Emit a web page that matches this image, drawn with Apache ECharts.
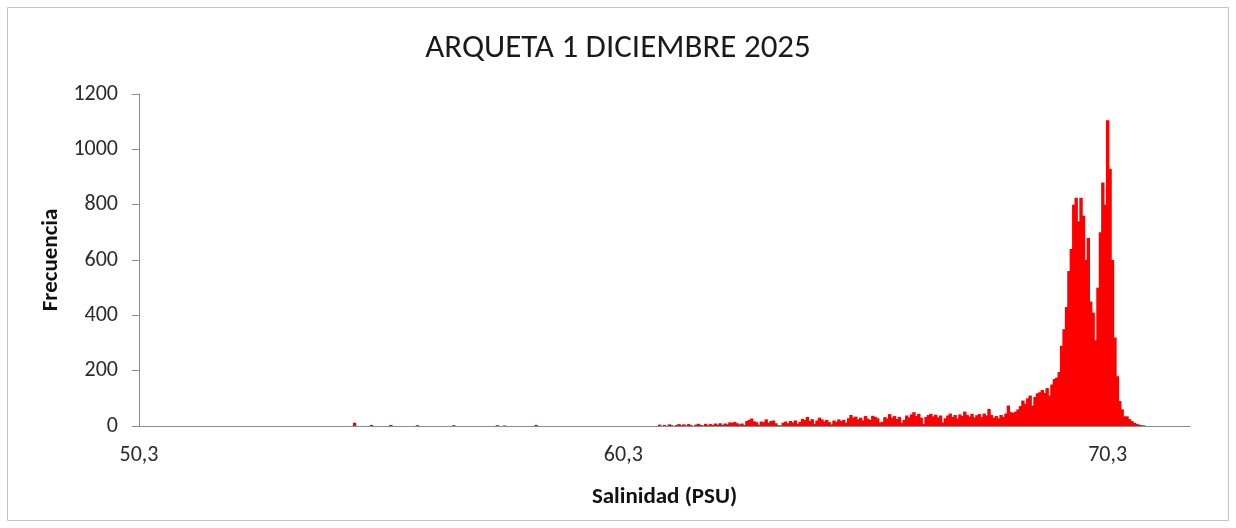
<!DOCTYPE html>
<html>
<head>
<meta charset="utf-8">
<script src="https://cdn.jsdelivr.net/npm/echarts@6/dist/echarts.min.js"></script>
<style>
html,body{margin:0;padding:0;background:#fff;}
#chart{width:1236px;height:528px;}
</style>
</head>
<body>
<div id="chart"></div>
<script>
const titulo = 'ARQUETA 1 DICIEMBRE 2025';
const ejeX = 'Salinidad (PSU)';
const ejeY = 'Frecuencia';
const xTicks = [50.3, 60.3, 70.3];

// Salinity bin centres (PSU)
const salinidad = [
  54.75, 55.10, 55.50, 56.05, 56.80, 57.70, 57.85, 58.50,
  61.05, 61.10, 61.15, 61.20, 61.25, 61.30, 61.35, 61.40, 61.45, 61.50,
  61.55, 61.60, 61.65, 61.70, 61.75, 61.80, 61.85, 61.90, 61.95, 62.00,
  62.05, 62.10, 62.15, 62.20, 62.25, 62.30, 62.35, 62.40, 62.45, 62.50,
  62.55, 62.60, 62.65, 62.70, 62.75, 62.80, 62.85, 62.90, 62.95, 63.00,
  63.05, 63.10, 63.15, 63.20, 63.25, 63.30, 63.35, 63.40, 63.45, 63.50,
  63.55, 63.60, 63.65, 63.70, 63.75, 63.80, 63.85, 63.90, 63.95, 64.00,
  64.05, 64.10, 64.15, 64.20, 64.25, 64.30, 64.35, 64.40, 64.45, 64.50,
  64.55, 64.60, 64.65, 64.70, 64.75, 64.80, 64.85, 64.90, 64.95, 65.00,
  65.05, 65.10, 65.15, 65.20, 65.25, 65.30, 65.35, 65.40, 65.45, 65.50,
  65.55, 65.60, 65.65, 65.70, 65.75, 65.80, 65.85, 65.90, 65.95, 66.00,
  66.05, 66.10, 66.15, 66.20, 66.25, 66.30, 66.35, 66.40, 66.45, 66.50,
  66.55, 66.60, 66.65, 66.70, 66.75, 66.80, 66.85, 66.90, 66.95, 67.00,
  67.05, 67.10, 67.15, 67.20, 67.25, 67.30, 67.35, 67.40, 67.45, 67.50,
  67.55, 67.60, 67.65, 67.70, 67.75, 67.80, 67.85, 67.90, 67.95, 68.00,
  68.05, 68.10, 68.15, 68.20, 68.25, 68.30, 68.35, 68.40, 68.45, 68.50,
  68.55, 68.60, 68.65, 68.70, 68.75, 68.80, 68.85, 68.90, 68.95, 69.00,
  69.05, 69.10, 69.15, 69.20, 69.25, 69.30, 69.35, 69.40, 69.45, 69.50,
  69.55, 69.60, 69.65, 69.70, 69.75, 69.80, 69.85, 69.90, 69.95, 70.00,
  70.05, 70.10, 70.15, 70.20, 70.25, 70.30, 70.35, 70.40, 70.45, 70.50,
  70.55, 70.60, 70.65, 70.70, 70.75, 70.80, 70.85, 70.90, 70.95, 71.00,
  71.05
];

// Frequency per bin
const frecuencia = [
  12, 4, 4, 3, 3, 3, 2, 4,
  5, 0, 4, 0, 6, 3, 0, 4, 7, 3,
  6, 2, 7, 3, 0, 5, 8, 4, 2, 8,
  3, 7, 4, 9, 5, 10, 4, 9, 6, 13,
  12, 15, 10, 6, 9, 4, 18, 22, 27, 17,
  14, 5, 16, 14, 24, 12, 18, 20, 10, 3,
  2, 12, 16, 10, 18, 13, 20, 8, 15, 26,
  22, 33, 18, 25, 8, 20, 30, 24, 17, 22,
  14, 6, 20, 15, 24, 18, 22, 12, 28, 40,
  30, 34, 24, 30, 20, 36, 26, 22, 37, 33,
  28, 13, 15, 32, 27, 43, 30, 36, 25, 33,
  12, 22, 38, 31, 42, 50, 36, 44, 30, 7,
  33, 40, 44, 35, 41, 31, 38, 13, 28, 38,
  45, 33, 40, 27, 42, 36, 52, 40, 34, 44,
  31, 39, 43, 32, 45, 38, 62, 40, 30, 36,
  28, 40, 33, 45, 74, 50, 48, 52, 60, 72,
  92, 80, 100, 110, 74, 105, 118, 122, 130, 120,
  137, 110, 150, 170, 175, 195, 290, 350, 430, 560,
  640, 800, 825, 740, 825, 760, 600, 680, 450, 410,
  310, 500, 700, 880, 800, 1105, 930, 600, 320, 180,
  90, 60, 35, 35, 25, 18, 12, 8, 5, 3,
  2
];

const FONT = "Carlito, Calibri, Lato, 'Noto Sans', sans-serif";
const chart = echarts.init(document.getElementById('chart'), null, {renderer: 'canvas'});

chart.setOption({
  animation: false,
  backgroundColor: '#ffffff',
  title: {
    text: titulo,
    left: 'center',
    top: 27,
    textStyle: {fontFamily: FONT, fontSize: 33, fontWeight: 'normal', color: '#1a1a1a'}
  },
  graphic: [{
    type: 'rect',
    shape: {x: 7.5, y: 7.5, width: 1221, height: 513},
    style: {fill: 'none', stroke: '#c4c4c4', lineWidth: 1},
    silent: true
  }],
  grid: {left: 139, top: 94, width: 1051, height: 332, containLabel: false},
  xAxis: {
    type: 'value',
    min: 50.3,
    max: 72.0,
    name: ejeX,
    nameLocation: 'middle',
    nameGap: 60,
    nameTextStyle: {fontFamily: FONT, fontSize: 23, fontWeight: 'bold', color: '#111'},
    axisLine: {show: true, lineStyle: {color: '#8c8c8c', width: 1}},
    axisTick: {show: false},
    splitLine: {show: false},
    axisLabel: {
      customValues: xTicks,
      margin: 18,
      fontFamily: FONT,
      fontSize: 22,
      color: '#2b2b2b',
      formatter: v => v.toFixed(1).replace('.', ',')
    }
  },
  yAxis: {
    type: 'value',
    min: 0,
    max: 1200,
    interval: 200,
    name: ejeY,
    nameLocation: 'middle',
    nameRotate: 90,
    nameGap: 76,
    nameTextStyle: {fontFamily: FONT, fontSize: 23, fontWeight: 'bold', color: '#111'},
    axisLine: {show: true, lineStyle: {color: '#8c8c8c', width: 1}},
    axisTick: {show: true, inside: false, length: 7, lineStyle: {color: '#8c8c8c'}},
    splitLine: {show: false},
    axisLabel: {margin: 21, fontFamily: FONT, fontSize: 22, color: '#2b2b2b', formatter: v => String(v)}
  },
  series: [{
    type: 'bar',
    name: ejeY,
    data: salinidad.map((s, i) => [s, frecuencia[i]]),
    barWidth: 3.4,
    itemStyle: {color: '#ff0000'},
    silent: true
  }]
});
</script>
</body>
</html>
